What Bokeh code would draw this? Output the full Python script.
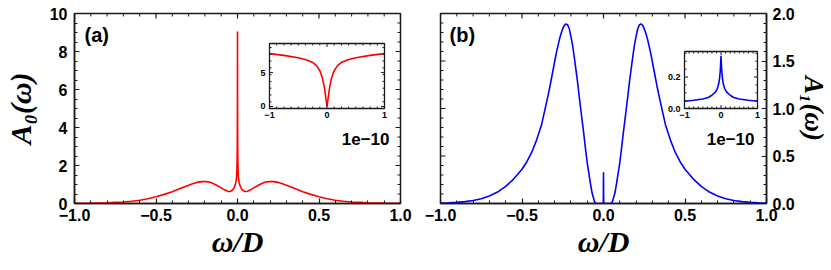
import numpy as np
from bokeh.plotting import figure
from bokeh.layouts import row
from bokeh.models import Range1d, LinearAxis, SingleIntervalTicker, CustomJSTickFormatter
from bokeh.core.properties import value
from bokeh.embed import file_html
from bokeh.resources import INLINE

# ---------------- data ----------------
a_omega = [-1.0, -0.9, -0.8, -0.75, -0.7, -0.65, -0.6, -0.55, -0.5, -0.45, -0.4, -0.36,
           -0.32, -0.28, -0.25, -0.22, -0.2, -0.18, -0.16, -0.14, -0.12, -0.1, -0.08,
           -0.065, -0.055, -0.045, -0.035, -0.027, -0.02, -0.014, -0.009, -0.006, -0.004,
           -0.002, -0.001, -0.0004, 0.0,
           0.0004, 0.001, 0.002, 0.004, 0.006, 0.009, 0.014, 0.02, 0.027, 0.035, 0.045,
           0.055, 0.065, 0.08, 0.1, 0.12, 0.14, 0.16, 0.18, 0.2, 0.22, 0.25, 0.28, 0.32,
           0.36, 0.4, 0.45, 0.5, 0.55, 0.6, 0.65, 0.7, 0.75, 0.8, 0.9, 1.0]
a_spec = [0.01, 0.02, 0.04, 0.06, 0.08, 0.12, 0.17, 0.25, 0.36, 0.48, 0.62, 0.76,
          0.9, 1.03, 1.11, 1.15, 1.16, 1.14, 1.09, 1.01, 0.92, 0.82, 0.72,
          0.66, 0.63, 0.635, 0.68, 0.75, 0.85, 0.98, 1.15, 1.35, 1.65,
          2.4, 3.6, 5.5, 9.05,
          5.5, 3.6, 2.4, 1.65, 1.35, 1.15, 0.98, 0.85, 0.75, 0.68, 0.635,
          0.63, 0.66, 0.72, 0.82, 0.92, 1.01, 1.09, 1.14, 1.16, 1.15, 1.11, 1.03, 0.9,
          0.76, 0.62, 0.48, 0.36, 0.25, 0.17, 0.12, 0.08, 0.06, 0.04, 0.02, 0.01]

b_omega = [-1.0, -0.95, -0.9, -0.85, -0.8, -0.75, -0.7, -0.65, -0.6, -0.55, -0.5, -0.47,
           -0.44, -0.41, -0.38, -0.35, -0.33, -0.31, -0.29, -0.27, -0.26, -0.25, -0.24,
           -0.23, -0.22, -0.21, -0.2, -0.19, -0.18, -0.17, -0.16, -0.15, -0.14, -0.13,
           -0.12, -0.11, -0.1, -0.09, -0.08, -0.07, -0.06, -0.055, -0.05, -0.045,
           -0.001, 0.0, 0.001,
           0.045, 0.05, 0.055, 0.06, 0.07, 0.08, 0.09, 0.1, 0.11, 0.12, 0.13, 0.14, 0.15,
           0.16, 0.17, 0.18, 0.19, 0.2, 0.21, 0.22, 0.23, 0.24, 0.25, 0.26, 0.27, 0.29,
           0.31, 0.33, 0.35, 0.38, 0.41, 0.44, 0.47, 0.5, 0.55, 0.6, 0.65, 0.7, 0.75,
           0.8, 0.85, 0.9, 0.95, 1.0]
b_spec = [0.004, 0.007, 0.012, 0.02, 0.032, 0.05, 0.08, 0.12, 0.18, 0.26, 0.36, 0.44,
          0.54, 0.67, 0.83, 1.06, 1.22, 1.4, 1.58, 1.73, 1.79, 1.84, 1.875,
          1.89, 1.88, 1.84, 1.76, 1.67, 1.55, 1.42, 1.29, 1.14, 1.0, 0.86,
          0.72, 0.57, 0.43, 0.32, 0.21, 0.11, 0.05, 0.022, 0.005, 0.0,
          0.0, 0.33, 0.0,
          0.0, 0.005, 0.022, 0.05, 0.11, 0.21, 0.32, 0.43, 0.57, 0.72, 0.86, 1.0, 1.14,
          1.29, 1.42, 1.55, 1.67, 1.76, 1.84, 1.88, 1.89, 1.875, 1.84, 1.79, 1.73, 1.58,
          1.4, 1.22, 1.06, 0.83, 0.67, 0.54, 0.44, 0.36, 0.26, 0.18, 0.12, 0.08, 0.05,
          0.032, 0.02, 0.012, 0.007, 0.004]

# insets: x in units of 1e-10
ia_x = [-1.0, -0.75, -0.5, -0.35, -0.25, -0.18, -0.12, -0.08, -0.05, -0.03, -0.015, 0.0,
        0.015, 0.03, 0.05, 0.08, 0.12, 0.18, 0.25, 0.35, 0.5, 0.75, 1.0]
ia_y = [7.8, 7.55, 7.2, 6.85, 6.5, 6.0, 5.2, 4.2, 3.0, 1.9, 0.9, 0.0,
        0.9, 1.9, 3.0, 4.2, 5.2, 6.0, 6.5, 6.85, 7.2, 7.55, 7.8]

ib_x = [-1.0, -0.75, -0.5, -0.35, -0.25, -0.15, -0.1, -0.06, -0.04, -0.02, -0.01, 0.0,
        0.01, 0.02, 0.04, 0.06, 0.1, 0.15, 0.25, 0.35, 0.5, 0.75, 1.0]
ib_y = [0.046, 0.052, 0.06, 0.07, 0.084, 0.105, 0.126, 0.16, 0.19, 0.24, 0.28, 0.335,
        0.28, 0.24, 0.19, 0.16, 0.126, 0.105, 0.084, 0.07, 0.06, 0.052, 0.046]

ia_xticks = [-1, 0, 1]
ia_xtick_labels = ["\u22121", "0", "1"]
ia_yticks = [0, 5]
ia_ytick_labels = ["0", "5"]
ib_xticks = [-1, 0, 1]
ib_xtick_labels = ["\u22121", "0", "1"]
ib_yticks = [0.0, 0.2]
ib_ytick_labels = ["0.0", "0.2"]
inset_scale_label = "1e\u221210"

RED = "#ff0000"
BLUE = "#0000ff"
FRAME = "#1a1a1a"
SANS = "Liberation Sans"
SERIF = "Liberation Serif"

FW, FH = 326, 190
TOP, BOTTOM = 13, 67


def style_axis(ax, size="16px"):
    ax.axis_line_color = FRAME
    ax.axis_line_width = 1.5
    ax.major_tick_line_color = FRAME
    ax.minor_tick_line_color = FRAME
    ax.major_tick_line_width = 1.2
    ax.minor_tick_line_width = 1.0
    ax.major_tick_in = 5
    ax.major_tick_out = 0
    ax.minor_tick_in = 3
    ax.minor_tick_out = 0
    ax.major_label_text_font = SANS
    ax.major_label_text_font_style = "bold"
    ax.major_label_text_color = "black"
    ax.major_label_text_font_size = size


def mirror_ticks(p, xr, yr, x_major, x_minor, y_major, y_minor, side_y):
    """Inward ticks on the top edge and on the y side that has no axis."""
    x0, x1 = xr
    y0, y1 = yr
    dy = (y1 - y0) / FH
    dx = (x1 - x0) / FW
    for ticks, L in ((x_major, 5), (x_minor, 3)):
        n = len(ticks)
        p.segment(x0=list(ticks), y0=[y1] * n, x1=list(ticks), y1=[y1 - L * dy] * n,
                  line_color=FRAME, line_width=1.2 if L == 5 else 1.0)
    xe = x1 if side_y == "right" else x0
    sgn = -1 if side_y == "right" else 1
    for ticks, L in ((y_major, 5), (y_minor, 3)):
        n = len(ticks)
        p.segment(x0=[xe] * n, y0=list(ticks), x1=[xe + sgn * L * dx] * n, y1=list(ticks),
                  line_color=FRAME, line_width=1.2 if L == 5 else 1.0)


def make_fig(xr, yr, bl, br):
    p = figure(frame_width=FW, frame_height=FH, x_range=Range1d(*xr), y_range=Range1d(*yr),
               min_border_left=bl, min_border_right=br, min_border_top=TOP,
               min_border_bottom=BOTTOM, output_backend="svg", toolbar_location=None,
               x_axis_location=None, y_axis_location=None)
    p.grid.visible = False
    p.outline_line_color = FRAME
    p.outline_line_width = 1.5
    p.background_fill_color = "white"
    p.border_fill_color = "white"
    xb = LinearAxis(ticker=SingleIntervalTicker(interval=0.5, num_minor_ticks=5),
                    formatter=CustomJSTickFormatter(code="return tick.toFixed(1).replace('-', '\u2212');"))
    style_axis(xb)
    xb.major_label_standoff = 5
    xb.axis_label = "\u03c9/D"
    xb.axis_label_text_font = SERIF
    xb.axis_label_text_font_style = "bold italic"
    xb.axis_label_text_font_size = "30px"
    xb.axis_label_standoff = 1
    xb.axis_label_text_color = "black"
    p.add_layout(xb, "below")
    return p


def ylabel_style(ax, text, size):
    ax.axis_label = text
    ax.axis_label_text_font = SERIF
    ax.axis_label_text_font_style = "bold italic"
    ax.axis_label_text_font_size = size
    ax.axis_label_text_color = "black"


def draw_inset(p, fx0, fx1, fy0, fy1, px_left, px_bottom, px_w, px_h,
               xs, ys, xsrc, ysrc, color, xt, xtl, yt, ytl, xminor_step, yminor_step, xoff):
    tx0 = fx0 + px_left / FW * (fx1 - fx0)
    tx1 = fx0 + (px_left + px_w) / FW * (fx1 - fx0)
    ty0 = fy0 + px_bottom / FH * (fy1 - fy0)
    ty1 = fy0 + (px_bottom + px_h) / FH * (fy1 - fy0)
    xy = p.subplot(x_source=Range1d(*xsrc), y_source=Range1d(*ysrc),
                   x_target=Range1d(tx0, tx1), y_target=Range1d(ty0, ty1))
    x0, x1 = xsrc
    y0, y1 = ysrc
    xy.quad(left=[x0], right=[x1], bottom=[y0], top=[y1], fill_color="white", line_color=None)
    xy.line(xs, ys, line_color=color, line_width=1.6)
    dxp = (x1 - x0) / px_w
    dyp = (y1 - y0) / px_h
    maj, mnr = 3.5, 2.0
    xminor = [float(v) for v in np.arange(x0, x1 + 1e-9, xminor_step) if all(abs(v - t) > 1e-9 for t in xt)]
    yminor = [float(v) for v in np.arange(y0, y1 + 1e-9, yminor_step) if all(abs(v - t) > 1e-9 for t in yt)]
    for ticks, L in ((list(xt), maj), (xminor, mnr)):
        n = len(ticks)
        xy.segment(x0=ticks, y0=[y0] * n, x1=ticks, y1=[y0 + L * dyp] * n, line_color=FRAME, line_width=1)
        xy.segment(x0=ticks, y0=[y1] * n, x1=ticks, y1=[y1 - L * dyp] * n, line_color=FRAME, line_width=1)
    for ticks, L in ((list(yt), maj), (yminor, mnr)):
        n = len(ticks)
        xy.segment(x0=[x0] * n, y0=ticks, x1=[x0 + L * dxp] * n, y1=ticks, line_color=FRAME, line_width=1)
        xy.segment(x0=[x1] * n, y0=ticks, x1=[x1 - L * dxp] * n, y1=ticks, line_color=FRAME, line_width=1)
    xy.quad(left=[x0], right=[x1], bottom=[y0], top=[y1], fill_alpha=0, line_color=FRAME, line_width=1.3)
    xy.text(x=list(xt), y=[y0] * len(xt), text=xtl, y_offset=3, text_align="center",
            text_baseline="top", text_font=value(SANS), text_font_style="bold",
            text_font_size="9px", text_color="black")
    xy.text(x=[x0] * len(yt), y=list(yt), text=ytl, x_offset=-4, text_align="right",
            text_baseline="middle", text_font=value(SANS), text_font_style="bold",
            text_font_size="9px", text_color="black")
    xy.text(x=[x1], y=[y0], text=[inset_scale_label], x_offset=xoff, y_offset=24,
            text_align="right", text_baseline="top", text_font=value(SANS),
            text_font_style="bold", text_font_size="17px", text_color="black")


x_major = [float(v) for v in np.arange(-1.0, 1.0001, 0.5)]
x_minor = [float(v) for v in np.arange(-1.0, 1.0001, 0.1) if abs(v * 2 - round(v * 2)) > 1e-6]

# ---------------- panel (a) ----------------
pa = make_fig((-1, 1), (0, 10), 73, 20)
ya = LinearAxis(ticker=SingleIntervalTicker(interval=2, num_minor_ticks=4))
style_axis(ya)
ya.major_label_standoff = 7
ylabel_style(ya, "A\u2080(\u03c9)", "30px")
ya.axis_label_standoff = 10
pa.add_layout(ya, "left")
mirror_ticks(pa, (-1, 1), (0, 10), x_major, x_minor,
             [float(v) for v in np.arange(0, 10.001, 2)],
             [float(v) for v in np.arange(1, 10, 2)] + [float(v) for v in np.arange(0.5, 10, 1)],
             "right")
pa.line(a_omega, a_spec, line_color=RED, line_width=1.6)
pa.text(x=[-1], y=[10], text=["(a)"], x_offset=10, y_offset=10, text_baseline="top",
        text_font=value(SANS), text_font_style="bold", text_font_size="20px", text_color="black")
draw_inset(pa, -1, 1, 0, 10, 195, 95, 115, 65, ia_x, ia_y, (-1, 1), (-0.3, 9.3), RED,
           ia_xticks, ia_xtick_labels, ia_yticks, ia_ytick_labels, 0.125, 1.0, 5)

# ---------------- panel (b) ----------------
pb = make_fig((-1, 1), (0, 2), 20, 66)
ybr = LinearAxis(ticker=SingleIntervalTicker(interval=0.5, num_minor_ticks=5),
                 formatter=CustomJSTickFormatter(code="return tick.toFixed(1);"))
style_axis(ybr)
ybr.major_label_standoff = 6
ylabel_style(ybr, "A\u2081(\u03c9)", "27px")
ybr.axis_label_standoff = 1
pb.add_layout(ybr, "right")
mirror_ticks(pb, (-1, 1), (0, 2), x_major, x_minor,
             [float(v) for v in np.arange(0, 2.0001, 0.5)],
             [float(v) for v in np.arange(0.1, 2.0, 0.1) if abs(v * 2 - round(v * 2)) > 1e-6],
             "left")
pb.line(b_omega, b_spec, line_color=BLUE, line_width=1.6)
pb.text(x=[-1], y=[2], text=["(b)"], x_offset=9, y_offset=10, text_baseline="top",
        text_font=value(SANS), text_font_style="bold", text_font_size="20px", text_color="black")
draw_inset(pb, -1, 1, 0, 2, 244, 95, 73, 57, ib_x, ib_y, (-1, 1), (0, 0.362), BLUE,
           ib_xticks, ib_xtick_labels, ib_yticks, ib_ytick_labels, 0.125, 0.05, -3)

layout = row(pa, pb)
open("out.html", "w").write(file_html(layout, INLINE))
